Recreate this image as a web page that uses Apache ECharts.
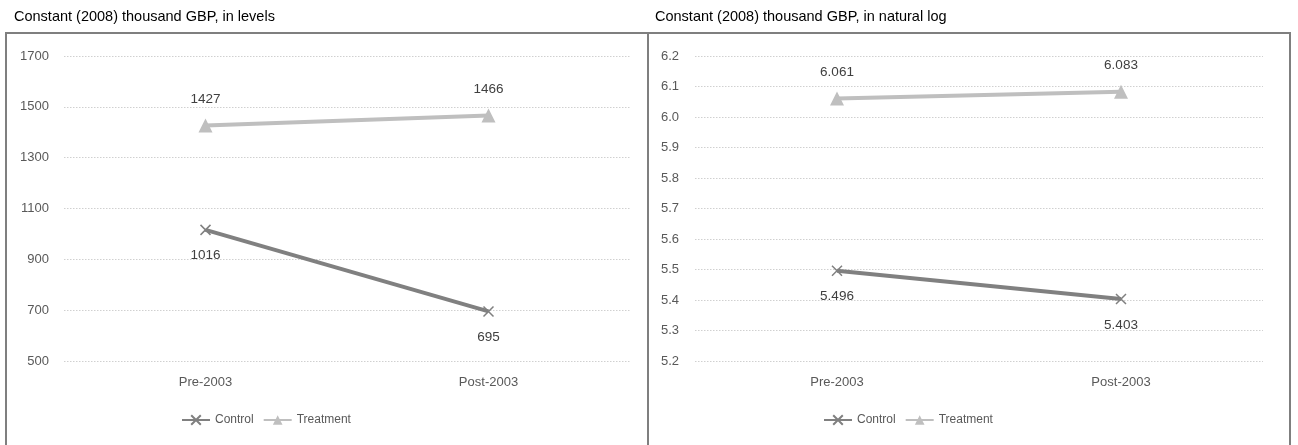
<!DOCTYPE html>
<html>
<head>
<meta charset="utf-8">
<script src="https://cdn.jsdelivr.net/npm/echarts@6/dist/echarts.min.js"></script>
<style>
  html, body { margin: 0; padding: 0; background: #fff; }
  #chart { width: 1298px; height: 445px; }
</style>
</head>
<body>
<div id="chart"></div>
<script>
// Periods on the x axis
const periods = ['Pre-2003', 'Post-2003'];

// Constant (2008) thousand GBP, levels
const controlLevels = [1016, 695];
const treatmentLevels = [1427, 1466];

// Constant (2008) thousand GBP, natural log
const controlLog = [5.496, 5.403];
const treatmentLog = [6.061, 6.083];

const panelTitles = ['Constant (2008) thousand GBP, in levels', 'Constant (2008) thousand GBP, in natural log'];

const FONT = 'Liberation Sans';
const CONTROL_COLOR = '#808080';
const TREATMENT_COLOR = '#bfbfbf';
const crossPath = 'path://M0,0L10,10M10,0L0,10';

function controlSeries(data, axisIdx, fmt) {
  return {
    name: 'Control', type: 'line', xAxisIndex: axisIdx, yAxisIndex: axisIdx,
    data: data, symbol: crossPath, symbolSize: 10,
    lineStyle: { color: CONTROL_COLOR, width: 4 },
    itemStyle: { color: CONTROL_COLOR, borderColor: CONTROL_COLOR, borderWidth: 1.5 },
    label: { show: true, position: 'bottom', distance: 13, color: '#404040',
             fontFamily: FONT, fontSize: 13.5, formatter: p => fmt(p.value) },
    emphasis: { disabled: true }, animation: false
  };
}
function treatmentSeries(data, axisIdx, fmt) {
  return {
    name: 'Treatment', type: 'line', xAxisIndex: axisIdx, yAxisIndex: axisIdx,
    data: data, symbol: 'triangle', symbolSize: 14,
    lineStyle: { color: TREATMENT_COLOR, width: 4 },
    itemStyle: { color: TREATMENT_COLOR },
    label: { show: true, position: 'top', distance: 12, color: '#404040',
             fontFamily: FONT, fontSize: 13.5, formatter: p => fmt(p.value) },
    emphasis: { disabled: true }, animation: false
  };
}

const axisLabelStyle = { color: '#595959', fontFamily: FONT, fontSize: 13 };
const splitLine = { show: true, lineStyle: { color: '#d0d0d0', type: [1.5, 1.5], width: 1 } };

function xAxis(idx) {
  return {
    type: 'category', gridIndex: idx, data: periods, boundaryGap: true,
    axisLine: { show: false }, axisTick: { show: false },
    axisLabel: Object.assign({ margin: 15 }, axisLabelStyle)
  };
}

const legendStyle = { color: '#595959', fontFamily: FONT, fontSize: 12 };

const chart = echarts.init(document.getElementById('chart'), null, { renderer: 'canvas' });
chart.setOption({
  backgroundColor: '#fff',
  title: [
    { text: panelTitles[0], left: 9, top: 4, textStyle: { fontFamily: FONT, fontSize: 14.5, fontWeight: 'normal', color: '#000' } },
    { text: panelTitles[1], left: 650, top: 4, textStyle: { fontFamily: FONT, fontSize: 14.5, fontWeight: 'normal', color: '#000' } }
  ],
  graphic: [
    { type: 'rect', shape: { x: 6, y: 33, width: 642, height: 430 }, style: { fill: 'none', stroke: '#7f7f7f', lineWidth: 2 }, silent: true },
    { type: 'rect', shape: { x: 648, y: 33, width: 642, height: 430 }, style: { fill: 'none', stroke: '#7f7f7f', lineWidth: 2 }, silent: true }
  ],
  legend: [
    { data: ['Control', 'Treatment'], left: 176, top: 409, itemWidth: 28, itemHeight: 12, itemGap: 9, textStyle: legendStyle },
    { data: ['Control', 'Treatment'], left: 818, top: 409, itemWidth: 28, itemHeight: 12, itemGap: 9, textStyle: legendStyle }
  ],
  grid: [
    { left: 64, top: 56, width: 566, height: 305 },
    { left: 695, top: 56, width: 568, height: 305 }
  ],
  xAxis: [xAxis(0), xAxis(1)],
  yAxis: [
    { type: 'value', gridIndex: 0, min: 500, max: 1700, interval: 200,
      axisLine: { show: false }, axisTick: { show: false },
      axisLabel: Object.assign({ margin: 15, formatter: v => String(v) }, axisLabelStyle), splitLine: splitLine },
    { type: 'value', gridIndex: 1, min: 5.2, max: 6.2, interval: 0.1,
      axisLine: { show: false }, axisTick: { show: false },
      axisLabel: Object.assign({ margin: 16, formatter: v => v.toFixed(1) }, axisLabelStyle), splitLine: splitLine }
  ],
  series: [
    controlSeries(controlLevels, 0, v => String(v)),
    treatmentSeries(treatmentLevels, 0, v => String(v)),
    controlSeries(controlLog, 1, v => v.toFixed(3)),
    treatmentSeries(treatmentLog, 1, v => v.toFixed(3))
  ]
});
</script>
</body>
</html>
